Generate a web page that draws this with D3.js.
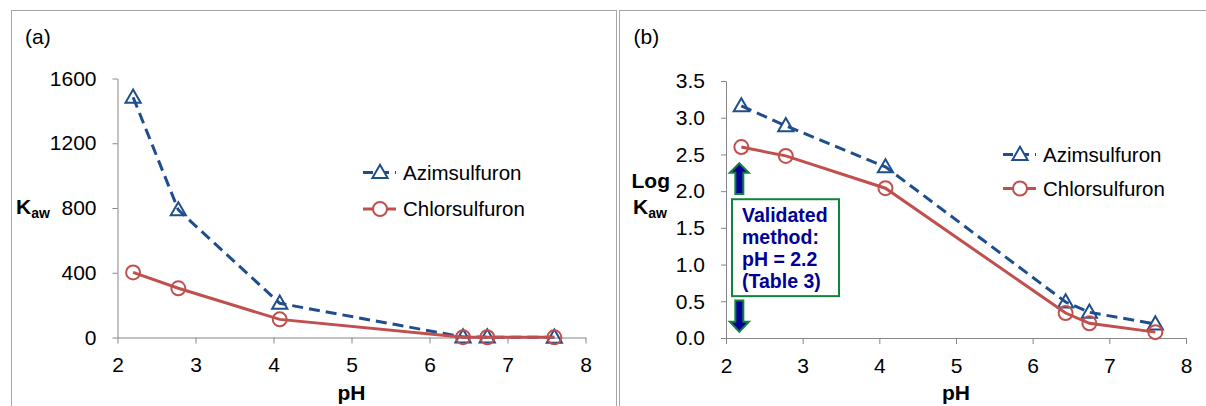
<!DOCTYPE html>
<html>
<head>
<meta charset="utf-8">
<script src="https://cdn.jsdelivr.net/npm/d3@7"></script>
<style>
  body { margin:0; background:#fff; }
  svg text { font-family: "Liberation Sans", Arial, sans-serif; }
</style>
</head>
<body>
<div id="chart"></div>
<script>
// data
const pH = [2.2, 2.78, 4.08, 6.43, 6.74, 7.6];
const azimKaw = [1484, 788, 211, 3.1, 2.2, 1.5];
const chlorKaw = [402, 304, 112, 2.2, 1.6, 1.2];
const azimLogKaw = [3.16, 2.89, 2.33, 0.49, 0.35, 0.19];
const chlorLogKaw = [2.60, 2.48, 2.04, 0.34, 0.20, 0.08];
const kawTicks = [0, 400, 800, 1200, 1600];
const logTicks = [0, 0.5, 1, 1.5, 2, 2.5, 3, 3.5];
const pHTicks = [2, 3, 4, 5, 6, 7, 8];
const seriesNames = ["Azimsulfuron", "Chlorsulfuron"];

const blue = "#1f4e8c", red = "#c0504d", axisGrey = "#868686";
const navy = "#000099", green = "#12833f";

const svg = d3.select("#chart").append("svg")
    .attr("width", 1206)
    .attr("height", 406);

// panel frames
svg.append("rect").attr("x", 11.5).attr("y", 10.5).attr("width", 605).attr("height", 420)
    .attr("fill", "none").attr("stroke", "#a6a6a6");
svg.append("rect").attr("x", 619.5).attr("y", 10.5).attr("width", 620).attr("height", 420)
    .attr("fill", "none").attr("stroke", "#a6a6a6");

function drawPanel(cfg) {
    const g = svg.append("g");

    const x = d3.scaleLinear().domain([2, 8]).range(cfg.xRange);
    const y = d3.scaleLinear().domain(cfg.yDomain).range(cfg.yRange);

    // axes
    g.append("g")
        .attr("transform", `translate(0, ${cfg.yRange[0]})`)
        .call(d3.axisBottom(x).tickValues(pHTicks).tickFormat(d3.format("d"))
            .tickSize(6).tickSizeOuter(0).tickPadding(14))
        .call(a => a.selectAll("path, line").attr("stroke", axisGrey))
        .call(a => a.selectAll("text").attr("font-size", 21).attr("fill", "#000")
            .attr("font-family", "Liberation Sans, Arial, sans-serif"));

    g.append("g")
        .attr("transform", `translate(${cfg.xRange[0]}, 0)`)
        .call(d3.axisLeft(y).tickValues(cfg.yTicks).tickFormat(cfg.yFormat)
            .tickSize(5).tickSizeOuter(0).tickPadding(16))
        .call(a => a.selectAll("path, line").attr("stroke", axisGrey))
        .call(a => a.selectAll("text").attr("font-size", 21).attr("fill", "#000")
            .attr("font-family", "Liberation Sans, Arial, sans-serif"));

    // panel letter
    g.append("text")
        .attr("x", cfg.letterX).attr("y", 44)
        .attr("font-size", 21)
        .text(cfg.letter);

    // x title
    g.append("text")
        .attr("x", x(5)).attr("y", 400)
        .attr("text-anchor", "middle")
        .attr("font-size", 21).attr("font-weight", "bold")
        .text("pH");

    // y title
    const yt = g.append("g").attr("font-weight", "bold");
    if (cfg.logLabel) {
        yt.append("text").attr("x", cfg.yTitleX - 1.5).attr("y", 187.5)
            .attr("font-size", 21).text("Log");
    }
    const kt = yt.append("text").attr("x", cfg.yTitleX).attr("y", 213.5).attr("font-size", 21);
    kt.append("tspan").text("K");
    kt.append("tspan").attr("font-size", 14).attr("dy", 4).text("aw");

    // lines
    const line = d3.line().x(d => x(d[0])).y(d => y(d[1]));
    const azim = pH.map((p, i) => [p, cfg.azim[i]]);
    const chlor = pH.map((p, i) => [p, cfg.chlor[i]]);

    const tri = d3.symbol().type(d3.symbolTriangle).size(100);

    g.append("path").datum(azim)
        .attr("d", line)
        .attr("fill", "none").attr("stroke", blue)
        .attr("stroke-width", 3).attr("stroke-dasharray", "11,6");
    g.selectAll(".tri").data(azim).enter().append("path")
        .attr("class", "tri")
        .attr("d", tri)
        .attr("transform", d => `translate(${x(d[0])}, ${y(d[1]) + 1})`)
        .attr("fill", "none").attr("stroke", blue).attr("stroke-width", 2);

    g.append("path").datum(chlor)
        .attr("d", line)
        .attr("fill", "none").attr("stroke", red).attr("stroke-width", 3);
    g.selectAll(".circ").data(chlor).enter().append("circle")
        .attr("class", "circ")
        .attr("cx", d => x(d[0])).attr("cy", d => y(d[1]))
        .attr("r", 7)
        .attr("fill", "none").attr("stroke", red).attr("stroke-width", 2);

    // legend
    const lg = g.append("g").attr("transform", `translate(${cfg.legendX}, ${cfg.legendY})`);
    seriesNames.forEach((name, i) => {
        const row = lg.append("g").attr("transform", `translate(0, ${i * cfg.legendGap})`);
        row.append("line")
            .attr("x1", 0).attr("x2", 33)
            .attr("stroke", i === 0 ? blue : red).attr("stroke-width", 3)
            .attr("stroke-dasharray", i === 0 ? "10,6" : null);
        if (i === 0) {
            row.append("path").attr("d", tri).attr("transform", "translate(17, 1)")
                .attr("fill", "#fff").attr("stroke", blue).attr("stroke-width", 2);
        } else {
            row.append("circle").attr("cx", 17).attr("r", 7)
                .attr("fill", "#fff").attr("stroke", red).attr("stroke-width", 2);
        }
        row.append("text")
            .attr("x", 40).attr("dy", "0.35em")
            .attr("font-size", 20.5)
            .text(name);
    });

    return { g, x, y };
}

// (a) Kaw vs pH
drawPanel({
    letter: "(a)", letterX: 25,
    xRange: [117.5, 585.5], yRange: [337.5, 78.5],
    yDomain: [0, 1600], yTicks: kawTicks, yFormat: d3.format("d"),
    azim: azimKaw, chlor: chlorKaw,
    yTitleX: 16, logLabel: false,
    legendX: 363, legendY: 172.5, legendGap: 36.5
});

// (b) log Kaw vs pH
const pb = drawPanel({
    letter: "(b)", letterX: 633.5,
    xRange: [726, 1186], yRange: [338, 81],
    yDomain: [0, 3.5], yTicks: logTicks, yFormat: d3.format(".1f"),
    azim: azimLogKaw, chlor: chlorLogKaw,
    yTitleX: 633, logLabel: true,
    legendX: 1003, legendY: 154.5, legendGap: 34
});

// annotation: validated method at pH 2.2
const ax = pb.x(2.2) - 2, ay = pb.y;
const up = [[0, ay(2.38)], [9.5, ay(2.25)], [4, ay(2.25)], [4, ay(1.96)],
            [-4, ay(1.96)], [-4, ay(2.25)], [-9.5, ay(2.25)]];
const down = [[0, ay(0.085)], [9.5, ay(0.22)], [4, ay(0.22)], [4, ay(0.51)],
              [-4, ay(0.51)], [-4, ay(0.22)], [-9.5, ay(0.22)]];
[up, down].forEach(pts => {
    pb.g.append("path")
        .attr("d", d3.line()(pts.map(p => [ax + p[0], p[1]])) + "Z")
        .attr("fill", navy).attr("stroke", green).attr("stroke-width", 2)
        .attr("stroke-linejoin", "miter");
});

pb.g.append("rect")
    .attr("x", 732).attr("y", ay(1.89))
    .attr("width", 107).attr("height", ay(0.57) - ay(1.89))
    .attr("fill", "#fff").attr("stroke", green).attr("stroke-width", 2);

const note = ["Validated", "method:", "pH = 2.2", "(Table 3)"];
pb.g.append("text")
    .attr("font-size", 19.5).attr("font-weight", "bold").attr("fill", navy)
    .selectAll("tspan").data(note).enter().append("tspan")
    .attr("x", 742).attr("y", (d, i) => 221.5 + i * 22)
    .text(d => d);
</script>
</body>
</html>
